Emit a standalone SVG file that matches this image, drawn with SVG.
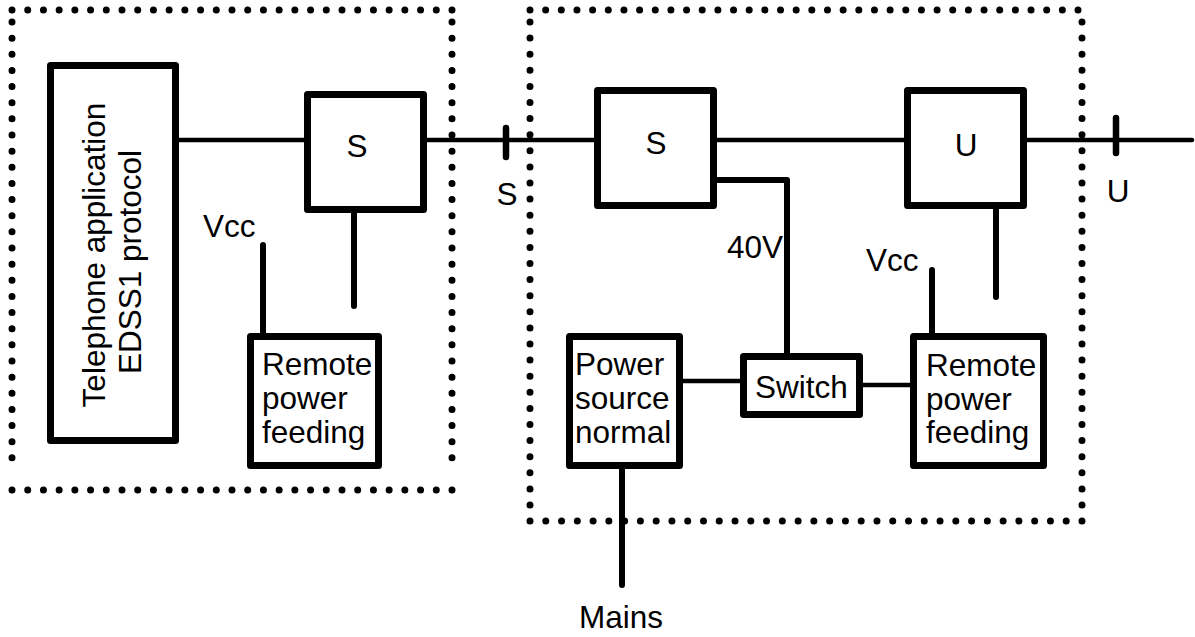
<svg xmlns="http://www.w3.org/2000/svg" width="1195" height="637" viewBox="0 0 1195 637">
<style>
  .box { fill: #fff; stroke: #000; stroke-width: 7; stroke-linejoin: round; }
  .ln { fill: none; stroke: #000; stroke-width: 4.5; stroke-linecap: round; }
  .stub { fill: none; stroke: #000; stroke-width: 6; stroke-linecap: round; }
  .tick { fill: none; stroke: #000; stroke-width: 6.5; stroke-linecap: round; }
  .dot { fill: none; stroke: #000; stroke-width: 7; stroke-linecap: round; }
  text { font-family: "Liberation Sans", Arial, sans-serif; font-size: 31.5px; fill: #000; }
</style>
<rect width="1195" height="637" fill="#fff"/>

<g id="boundary-terminal">
  <line class="dot" x1="12" y1="10" x2="452" y2="10" stroke-dasharray="0 15.714"/>
  <line class="dot" x1="12" y1="490" x2="452" y2="490" stroke-dasharray="0 15.714"/>
  <line class="dot" x1="12" y1="22" x2="12" y2="474" stroke-dasharray="0 16.143"/>
  <line class="dot" x1="452" y1="22" x2="452" y2="474" stroke-dasharray="0 16.143"/>
</g>
<g id="boundary-nt">
  <line class="dot" x1="530" y1="10" x2="1078" y2="10" stroke-dasharray="0 15.657"/>
  <line class="dot" x1="530" y1="521" x2="1082" y2="521" stroke-dasharray="0 15.771"/>
  <line class="dot" x1="530" y1="22" x2="530" y2="505" stroke-dasharray="0 16.1"/>
  <line class="dot" x1="1082" y1="22" x2="1082" y2="505" stroke-dasharray="0 16.1"/>
</g>

<g id="connectors">
  <line class="ln" x1="179" y1="140" x2="304" y2="140"/>
  <line class="ln" x1="427" y1="140" x2="594" y2="140"/>
  <line class="ln" x1="717" y1="140" x2="904" y2="140"/>
  <line class="ln" x1="1027" y1="140" x2="1192" y2="140"/>
  <line class="tick" x1="506" y1="128" x2="506" y2="157"/>
  <line class="tick" x1="1116" y1="118" x2="1116" y2="153"/>
  <line class="stub" x1="354" y1="212" x2="354" y2="306"/>
  <line class="stub" x1="263" y1="245" x2="263" y2="334"/>
  <polyline class="stub" points="717,180 787,180 787,354" stroke-linejoin="round"/>
  <line class="stub" x1="996" y1="208" x2="996" y2="297"/>
  <line class="stub" x1="932" y1="270" x2="932" y2="334"/>
  <line class="ln" x1="683" y1="381" x2="740" y2="381"/>
  <line class="ln" x1="863" y1="385" x2="910" y2="385"/>
  <line class="stub" x1="622" y1="468" x2="622" y2="585"/>
</g>

<g id="telephone-app">
  <rect class="box" x="50.5" y="65.5" width="125" height="375"/>
  <text transform="translate(105,255) rotate(-90)" text-anchor="middle">Telephone application</text>
  <text transform="translate(141,262) rotate(-90)" text-anchor="middle">EDSS1 protocol</text>
</g>

<g id="s-terminal">
  <rect class="box" x="307.5" y="94.5" width="116" height="115"/>
  <text x="357" y="157" text-anchor="middle">S</text>
</g>

<g id="remote-power-terminal">
  <rect class="box" x="250.5" y="336.5" width="128" height="129"/>
  <text x="262" y="375">Remote</text>
  <text x="262" y="409">power</text>
  <text x="262" y="443">feeding</text>
</g>

<g id="s-nt">
  <rect class="box" x="597.5" y="90.5" width="116" height="115"/>
  <text x="656" y="154" text-anchor="middle">S</text>
</g>

<g id="u-nt">
  <rect class="box" x="907.5" y="90.5" width="116" height="115"/>
  <text x="966" y="156" text-anchor="middle">U</text>
</g>

<g id="power-source">
  <rect class="box" x="569.5" y="336.5" width="110" height="129"/>
  <text x="575" y="375">Power</text>
  <text x="575" y="409">source</text>
  <text x="575" y="443">normal</text>
</g>

<g id="switch">
  <rect class="box" x="743.5" y="356.5" width="116" height="58"/>
  <text x="755" y="398">Switch</text>
</g>

<g id="remote-power-nt">
  <rect class="box" x="913.5" y="336.5" width="130" height="129"/>
  <text x="926" y="376">Remote</text>
  <text x="926" y="410">power</text>
  <text x="926" y="443">feeding</text>
</g>

<g id="labels">
  <text x="507" y="205" text-anchor="middle">S</text>
  <text x="1118" y="202" text-anchor="middle">U</text>
  <text x="203" y="237">Vcc</text>
  <text x="866" y="271">Vcc</text>
  <text x="727" y="258">40V</text>
  <text x="621" y="628" text-anchor="middle">Mains</text>
</g>
</svg>
